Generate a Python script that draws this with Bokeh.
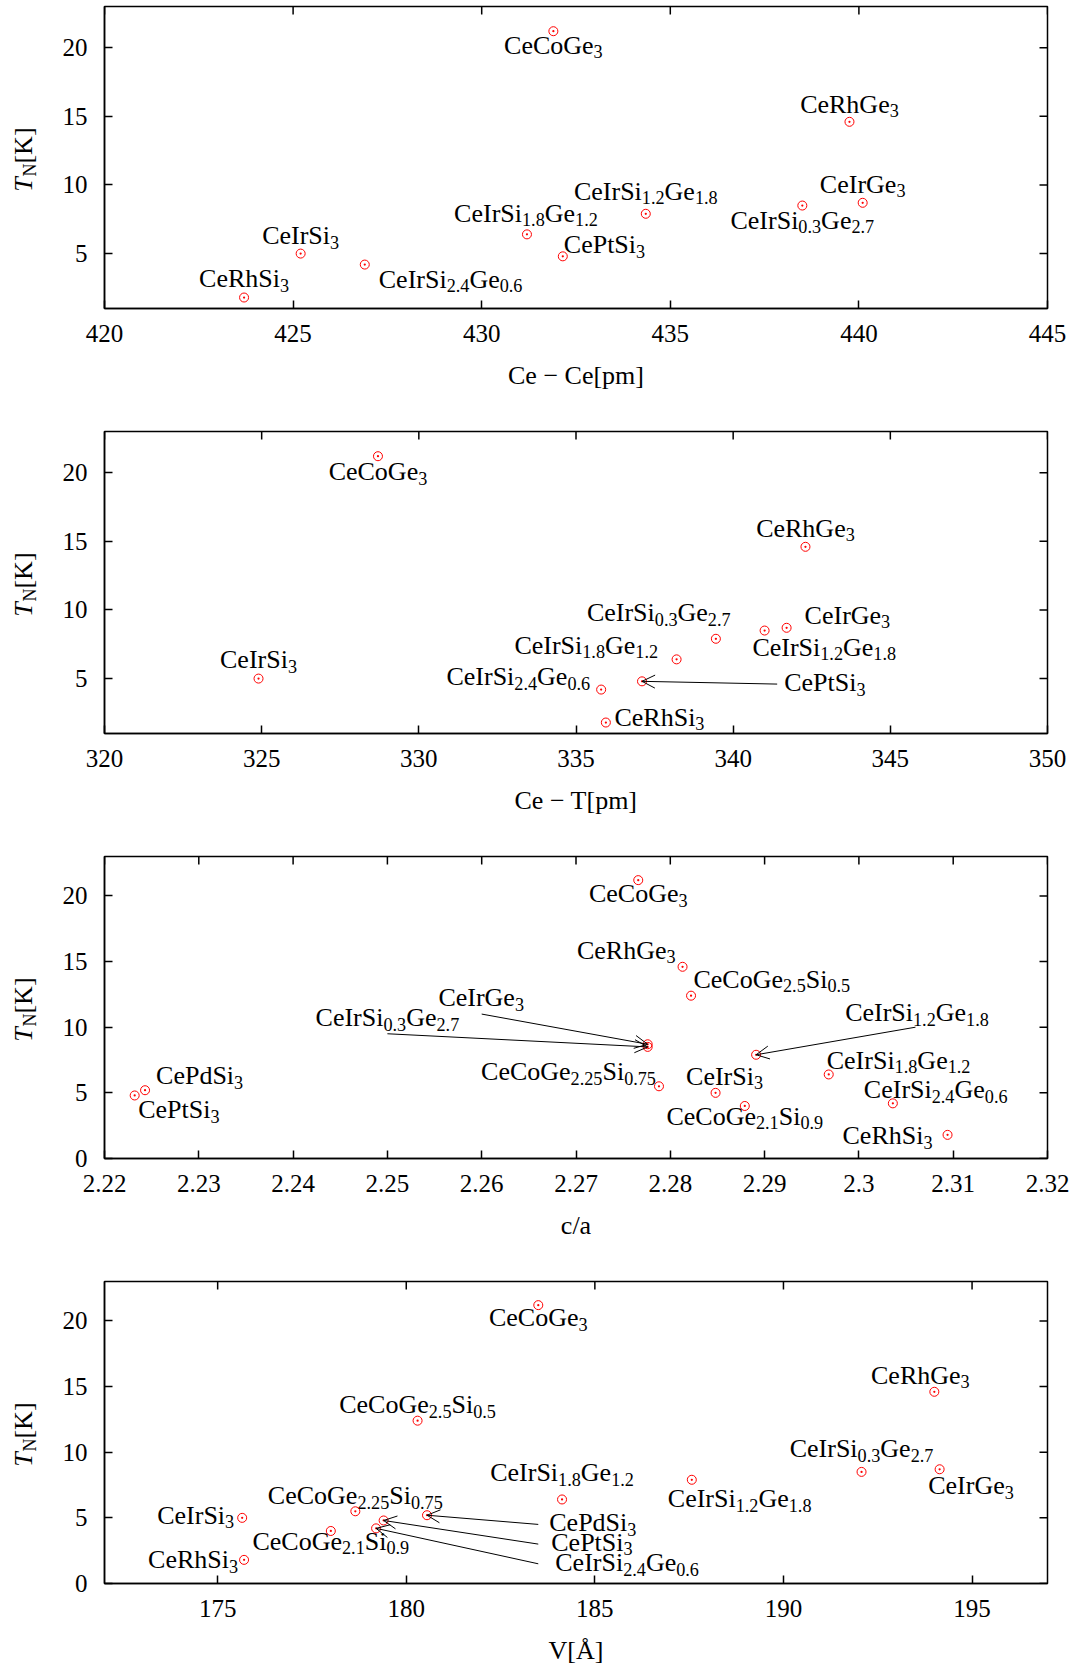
import math
import re
from bokeh.plotting import figure
from bokeh.models import (Range1d, FixedTicker, Arrow, OpenHead,
                          ColumnDataSource, CustomJSTickFormatter)
from bokeh.layouts import column, row
from bokeh.embed import file_html
from bokeh.resources import INLINE
from bokeh.core.properties import value

FONT = "Liberation Serif"

# ---------------- data ----------------
tn_names = ["CeCoGe_{3}", "CeRhGe_{3}", "CeCoGe_{2.5}Si_{0.5}", "CeIrGe_{3}",
            "CeIrSi_{0.3}Ge_{2.7}", "CeIrSi_{1.2}Ge_{1.8}", "CeIrSi_{1.8}Ge_{1.2}",
            "CeCoGe_{2.25}Si_{0.75}", "CePdSi_{3}", "CeIrSi_{3}", "CePtSi_{3}",
            "CeIrSi_{2.4}Ge_{0.6}", "CeCoGe_{2.1}Si_{0.9}", "CeRhSi_{3}"]
tn_values = [21.2, 14.6, 12.4, 8.7, 8.5, 7.9, 6.4, 5.5, 5.2, 5.0, 4.8, 4.2, 4.0, 1.8]

cece_names = ["CeRhSi_{3}", "CeIrSi_{3}", "CeIrSi_{2.4}Ge_{0.6}", "CeIrSi_{1.8}Ge_{1.2}",
              "CeCoGe_{3}", "CePtSi_{3}", "CeIrSi_{1.2}Ge_{1.8}", "CeIrSi_{0.3}Ge_{2.7}",
              "CeRhGe_{3}", "CeIrGe_{3}"]
cece_values = [423.7, 425.2, 426.9, 431.2, 431.9, 432.15, 434.35, 438.5, 439.75, 440.1]

cet_names = ["CeIrSi_{3}", "CeCoGe_{3}", "CeIrSi_{2.4}Ge_{0.6}", "CeRhSi_{3}", "CePtSi_{3}",
             "CeIrSi_{1.8}Ge_{1.2}", "CeIrSi_{1.2}Ge_{1.8}", "CeIrSi_{0.3}Ge_{2.7}",
             "CeIrGe_{3}", "CeRhGe_{3}"]
cet_values = [324.9, 328.7, 335.8, 335.95, 337.1, 338.2, 339.45, 341.0, 341.7, 342.3]

ca_names = ["CePtSi_{3}", "CePdSi_{3}", "CeCoGe_{3}", "CeIrGe_{3}", "CeIrSi_{0.3}Ge_{2.7}",
            "CeCoGe_{2.25}Si_{0.75}", "CeRhGe_{3}", "CeCoGe_{2.5}Si_{0.5}", "CeIrSi_{3}",
            "CeCoGe_{2.1}Si_{0.9}", "CeIrSi_{1.2}Ge_{1.8}", "CeIrSi_{1.8}Ge_{1.2}",
            "CeIrSi_{2.4}Ge_{0.6}", "CeRhSi_{3}"]
ca_values = [2.2232, 2.2243, 2.2766, 2.2776, 2.2776, 2.2788, 2.2813, 2.2822, 2.2848,
             2.2879, 2.2891, 2.2968, 2.3036, 2.3094]

v_names = ["CeIrSi_{3}", "CeRhSi_{3}", "CeCoGe_{2.1}Si_{0.9}", "CeCoGe_{2.25}Si_{0.75}",
           "CeIrSi_{2.4}Ge_{0.6}", "CePtSi_{3}", "CePdSi_{3}", "CeCoGe_{2.5}Si_{0.5}",
           "CeCoGe_{3}", "CeIrSi_{1.8}Ge_{1.2}", "CeIrSi_{1.2}Ge_{1.8}",
           "CeIrSi_{0.3}Ge_{2.7}", "CeIrGe_{3}", "CeRhGe_{3}"]
v_values = [175.65, 175.7, 178.0, 178.65, 179.2, 179.4, 180.55, 180.3, 183.5, 184.13,
            187.57, 192.07, 194.14, 194.0]

x_titles = ["Ce \u2212 Ce[pm]", "Ce \u2212 T[pm]", "c/a", "V[\u00c5]"]
y_title = ["T", "N", "[K]"]
x_ticks = [[420, 425, 430, 435, 440, 445],
           [320, 325, 330, 335, 340, 345, 350],
           [2.22, 2.23, 2.24, 2.25, 2.26, 2.27, 2.28, 2.29, 2.30, 2.31, 2.32],
           [175, 180, 185, 190, 195]]
x_limits = [(420, 445), (320, 350), (2.22, 2.32), (172, 197)]
y_limits = [(1, 23), (1, 23), (0, 23), (0, 23)]
y_ticks = [[5, 10, 15, 20], [5, 10, 15, 20], [0, 5, 10, 15, 20], [0, 5, 10, 15, 20]]

# ---------------- label placement (pixel offsets of the text baseline) ----------------
labels = [
    [("CeRhSi_{3}", "center", 0, -10), ("CeIrSi_{3}", "center", 0, -9),
     ("CeIrSi_{2.4}Ge_{0.6}", "left", 14, 23.5), ("CeIrSi_{1.8}Ge_{1.2}", "center", -1, -12.5),
     ("CeCoGe_{3}", "center", 0, 22.6), ("CePtSi_{3}", "left", 1, -3),
     ("CeIrSi_{1.2}Ge_{1.8}", "center", 0, -14), ("CeIrSi_{0.3}Ge_{2.7}", "center", 0, 23.5),
     ("CeRhGe_{3}", "center", 0, -9), ("CeIrGe_{3}", "center", 0, -10)],
    [("CeCoGe_{3}", "center", 0, 24), ("CeIrSi_{3}", "center", 0, -10),
     ("CeIrSi_{2.4}Ge_{0.6}", "right", -11, -4.4), ("CeIrSi_{1.8}Ge_{1.2}", "right", -18.5, -5.4),
     ("CeIrSi_{0.3}Ge_{2.7}", "right", -34, -9.4), ("CeIrGe_{3}", "left", 18, -4),
     ("CeIrSi_{1.2}Ge_{1.8}", "left", 36.5, 17.2), ("CeRhSi_{3}", "left", 8.6, 3.4),
     ("CeRhGe_{3}", "center", 0, -10)],
    [("CePdSi_{3}", "left", 11, -6), ("CePtSi_{3}", "left", 3.5, 23),
     ("CeCoGe_{2.25}Si_{0.75}", "right", -3, -5.7), ("CeCoGe_{3}", "center", 0, 22.6),
     ("CeRhGe_{3}", "right", -7, -8), ("CeCoGe_{2.5}Si_{0.5}", "left", 2.4, -7.8),
     ("CeIrSi_{1.8}Ge_{1.2}", "left", -2, -5.4), ("CeIrSi_{3}", "center", 9, -8),
     ("CeCoGe_{2.1}Si_{0.9}", "center", 0, 19), ("CeIrSi_{2.4}Ge_{0.6}", "left", -29, -5),
     ("CeRhSi_{3}", "right", -15, 9.4)],
    [("CeIrSi_{3}", "right", -8, 6), ("CeRhSi_{3}", "right", -6, 8.7),
     ("CeCoGe_{2.1}Si_{0.9}", "center", 0, 19), ("CeCoGe_{2.25}Si_{0.75}", "center", 0, -7),
     ("CeCoGe_{2.5}Si_{0.5}", "center", 0, -7), ("CeCoGe_{3}", "center", 0, 21.6),
     ("CeIrSi_{1.8}Ge_{1.2}", "center", 0, -18), ("CeIrSi_{1.2}Ge_{1.8}", "left", -24, 27.6),
     ("CeIrSi_{0.3}Ge_{2.7}", "center", 0, -14.5), ("CeIrGe_{3}", "left", -11.4, 25),
     ("CeRhGe_{3}", "center", -14, -8)],
]
# arrows: (compound, tail x, tail y, label align, dx, dy)
arrows = [
    [],
    [("CePtSi_{3}", 341.4, 4.6, "left", 7, 7.4)],
    [("CeIrGe_{3}", 2.26, 11.0, "center", -0.5, -7.4),
     ("CeIrSi_{0.3}Ge_{2.7}", 2.25, 9.5, "center", 0, -7),
     ("CeIrSi_{1.2}Ge_{1.8}", 2.306, 10.0, "center", 1.5, -6)],
    [("CePdSi_{3}", 183.5, 4.5, "left", 11, 6.8),
     ("CePtSi_{3}", 183.5, 3.0, "left", 13, 6.8),
     ("CeIrSi_{2.4}Ge_{0.6}", 183.5, 1.5, "left", 17, 7.8)],
]
panel_data = [(cece_names, cece_values), (cet_names, cet_values),
              (ca_names, ca_values), (v_names, v_values)]

# ---------------- text helpers ----------------
FS_MAIN = 26.0
FS_SUB = 18.2
SUB_DROP = 4.0          # subscript baseline below main baseline
MID = 0.3375            # baseline lies this many em below the middle of the text box
WID = {'C': 667, 'e': 444, 'I': 333, 'r': 333, 'S': 556, 'i': 278, 'G': 722, 'o': 500,
       'R': 667, 'h': 500, 'P': 556, 't': 278, 'd': 500, '.': 250, 'T': 556, 'N': 722,
       '[': 333, ']': 333, 'K': 722}
for d in "0123456789":
    WID[d] = 500


def segs(markup):
    out = []
    pos = 0
    for m in re.finditer(r"_\{([^}]*)\}", markup):
        if m.start() > pos:
            out.append((markup[pos:m.start()], False))
        out.append((m.group(1), True))
        pos = m.end()
    if pos < len(markup):
        out.append((markup[pos:], False))
    return out


def text_w(s, fs):
    return sum(WID.get(c, 500) for c in s) * fs / 1000.0


tn_of = dict(zip(tn_names, tn_values))

TITLE_W = 45
FRAME_TOP = 6
FRAME_H = 302
fig_heights = [425, 425, 425, 396]
rows_layout = []
for k in range(4):
    names, xs = panel_data[k]
    ys = [tn_of[n] for n in names]
    pos = dict(zip(names, zip(xs, ys)))
    fh = fig_heights[k]

    # --- narrow figure holding the rotated y-axis title T_N[K] ---
    # (its frame is aligned with the main frame by the row layout: y = px above frame bottom)
    tf = figure(width=TITLE_W, height=fh, output_backend="svg", toolbar_location=None,
                x_range=Range1d(0, TITLE_W), y_range=Range1d(0, FRAME_H),
                x_axis_type=None, y_axis_type=None,
                min_border_left=0, min_border_right=0, min_border_top=FRAME_TOP,
                min_border_bottom=fh - FRAME_TOP - FRAME_H)
    tf.outline_line_color = None
    tf.xgrid.visible = False
    tf.ygrid.visible = False
    base_x = 32.0                         # screen x of the rotated baseline
    start = FRAME_TOP + FRAME_H - 192.0   # bottom end of the title
    t_len = text_w("T", 26) + 1.5
    n_len = text_w("N", 18)
    k_len = text_w("[K]", 26)
    tsrc = ColumnDataSource(dict(
        x=[base_x - MID * 26, base_x + 4 - MID * 18, base_x - MID * 26],
        y=[start + t_len / 2, start + t_len + n_len / 2, start + t_len + n_len + k_len / 2],
        text=y_title,
        fs=["26px", "18px", "26px"],
        st=["italic", "normal", "normal"]))
    tf.text(x="x", y="y", text="text", source=tsrc, angle=math.pi / 2,
            text_font=value(FONT), text_font_size="fs", text_font_style="st",
            text_align="center", text_baseline="middle", text_color="black")

    # --- main figure ---
    p = figure(width=1080 - TITLE_W, height=fh, output_backend="svg", toolbar_location=None,
               x_range=Range1d(*x_limits[k]), y_range=Range1d(*y_limits[k]),
               min_border_left=104 - TITLE_W, min_border_right=33, min_border_top=FRAME_TOP,
               min_border_bottom=fh - FRAME_TOP - FRAME_H)
    p.xgrid.visible = False
    p.ygrid.visible = False
    p.outline_line_color = "black"
    p.outline_line_width = 1.5
    p.background_fill_color = "white"
    p.border_fill_color = "white"

    xa = p.below[0]
    ya = p.left[0]
    xa.ticker = FixedTicker(ticks=x_ticks[k])
    ya.ticker = FixedTicker(ticks=y_ticks[k])
    if k == 2:
        xa.formatter = CustomJSTickFormatter(code="return Number(tick.toFixed(2)).toString();")
    for ax in (xa, ya):
        ax.major_tick_in = 8
        ax.major_tick_out = 0
        ax.minor_tick_line_color = None
        ax.axis_line_color = "black"
        ax.axis_line_width = 1.5
        ax.major_tick_line_color = "black"
        ax.major_tick_line_width = 1.5
        ax.major_label_text_font = FONT
        ax.major_label_text_color = "black"
        ax.major_label_text_font_size = "25px"
    xa.major_label_standoff = 16
    xa.axis_label = x_titles[k]
    xa.axis_label_text_font = FONT
    xa.axis_label_text_font_size = "26px"
    xa.axis_label_text_font_style = "normal"
    xa.axis_label_text_color = "black"
    xa.axis_label_standoff = 16
    ya.major_label_standoff = 17

    # mirror ticks on top and right (dash markers, clipped to the frame -> inward half)
    p.scatter(x=x_ticks[k], y=[y_limits[k][1]] * len(x_ticks[k]), marker="dash",
              angle=math.pi / 2, size=16, line_color="black", line_width=1.5)
    p.scatter(x=[x_limits[k][1]] * len(y_ticks[k]), y=y_ticks[k], marker="dash",
              size=16, line_color="black", line_width=1.5)

    # point labels, built from main / subscript pieces
    rows = dict(x=[], y=[], text=[], xo=[], yo=[], fs=[])

    def add_label(markup, ax_, ay_, align, dx, dy):
        sg = segs(markup)
        total = sum(text_w(s, FS_SUB if sb else FS_MAIN) for s, sb in sg)
        cur = dx - {"left": 0.0, "center": total / 2.0, "right": total}[align]
        for s, sb in sg:
            fs = FS_SUB if sb else FS_MAIN
            rows["x"].append(ax_)
            rows["y"].append(ay_)
            rows["text"].append(s)
            rows["xo"].append(cur)
            rows["yo"].append(dy + (SUB_DROP if sb else 0.0) - MID * fs)
            rows["fs"].append("%.1fpx" % fs)
            cur += text_w(s, fs)

    for name, align, dx, dy in labels[k]:
        px, py = pos[name]
        add_label(name, px, py, align, dx, dy)
    for name, tx, ty, align, dx, dy in arrows[k]:
        px, py = pos[name]
        p.add_layout(Arrow(end=OpenHead(size=13, line_width=1, line_color="black"),
                           x_start=tx, y_start=ty, x_end=px, y_end=py,
                           line_width=1, line_color="black"))
        add_label(name, tx, ty, align, dx, dy)

    p.text(x="x", y="y", text="text", x_offset="xo", y_offset="yo", text_font_size="fs",
           text_font=value(FONT), text_align="left", text_baseline="middle",
           text_color="black", source=ColumnDataSource(rows))

    p.scatter(x=xs, y=ys, marker="circle_dot", size=9, line_color="red",
              fill_color=None, line_width=1)
    rows_layout.append(row(tf, p, spacing=0))

layout = column(*rows_layout, spacing=0)
open("out.html", "w").write(file_html(layout, INLINE))
